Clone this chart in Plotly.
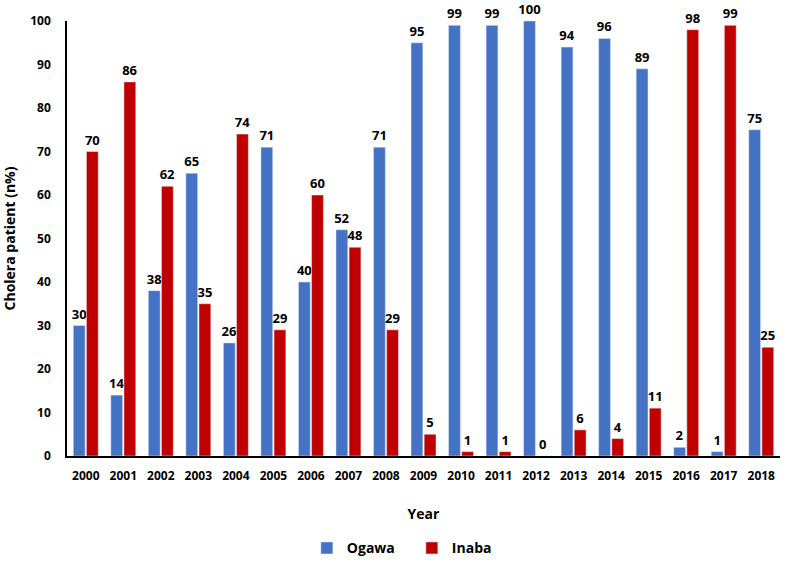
import plotly.graph_objects as go

years = [str(y) for y in range(2000, 2019)]
ogawa = [30, 14, 38, 65, 26, 71, 40, 52, 71, 95, 99, 99, 100, 94, 96, 89, 2, 1, 75]
inaba = [70, 86, 62, 35, 74, 29, 60, 48, 29, 5, 1, 1, 0, 6, 4, 11, 98, 99, 25]

font = dict(family="Open Sans", color="#000000")
lblfont = dict(family="Open Sans", size=13, color="#000", weight="bold")

fig = go.Figure()
fig.add_trace(go.Bar(x=years, y=ogawa, name="Ogawa", marker_color="#4472C4",
                     text=ogawa, textposition="outside", cliponaxis=False,
                     constraintext="none", textfont=lblfont))
fig.add_trace(go.Bar(x=years, y=inaba, name="Inaba", marker_color="#C00000",
                     text=inaba, textposition="outside", cliponaxis=False,
                     constraintext="none", textfont=lblfont))

fig.update_layout(
    width=789, height=563,
    margin=dict(l=67, r=9, t=21, b=107, autoexpand=False),
    paper_bgcolor="white", plot_bgcolor="white",
    barmode="group", bargap=0.3, bargroupgap=0.1,
    font=font,
    showlegend=True,
    legend=dict(orientation="h", x=0.522, xanchor="center", xref="container",
                y=0.026, yanchor="middle", yref="container",
                font=dict(family="Open Sans", size=14, color="#000", weight="bold"),
                entrywidth=60, traceorder="normal"),
    xaxis=dict(title=dict(text="Year", font=dict(family="Open Sans", size=14, weight="bold"), standoff=26),
               showline=True, linecolor="#000", linewidth=1.5, ticks="", automargin=False,
               ticklabelstandoff=8,
               tickfont=dict(family="Open Sans", size=12, weight="bold")),
    yaxis=dict(title=dict(text="Cholera patient (n%)", font=dict(family="Open Sans", size=14, weight="bold"), standoff=14),
               range=[0, 100], dtick=10, showgrid=False, zeroline=False, automargin=False,
               showline=True, linecolor="#000", linewidth=1.5, ticks="",
               ticklabelstandoff=12,
               tickfont=dict(family="Open Sans", size=12, weight="bold")),
)

fig.write_html("out.html", config={"displayModeBar": False},
               post_script="document.body.style.margin='0';")
